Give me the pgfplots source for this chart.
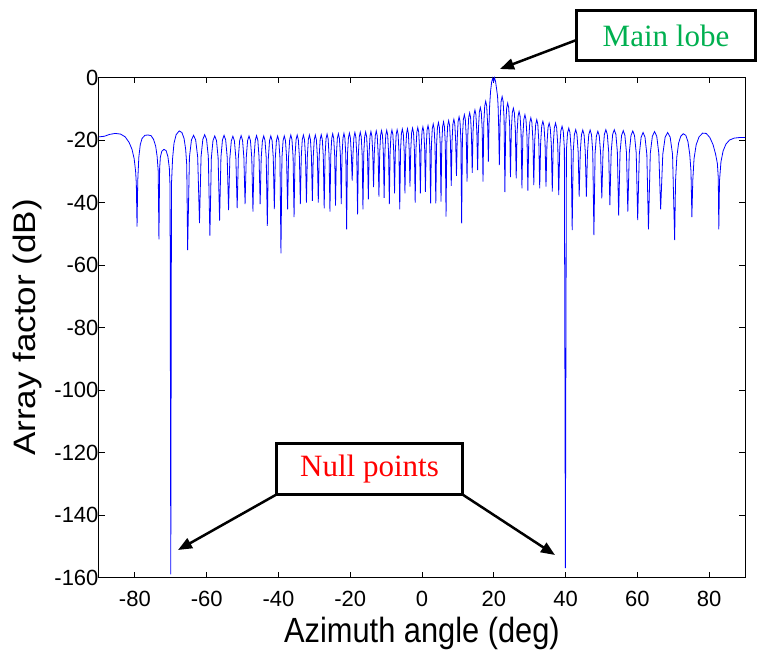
\documentclass[border=0pt]{standalone}
\usepackage{fontspec}
\setmainfont{Liberation Sans}
\newfontfamily\xlabfont[FakeStretch=0.88]{Liberation Sans}
\newfontfamily\ylabfont[FakeStretch=1.13]{Liberation Sans}
\newfontfamily\timesfont{Liberation Serif}
\usepackage{pgfplots}
\pgfplotsset{compat=1.18}
\usetikzlibrary{arrows.meta}
\definecolor{mgreen}{RGB}{0,176,80}
\begin{document}
\begin{tikzpicture}
\path[use as bounding box] (-99pt,-73.5pt) rectangle (659pt,577.5pt);
\begin{axis}[
  at={(0pt,0pt)}, anchor=south west,
  scale only axis, width=646pt, height=500pt,
  xmin=-90, xmax=90, ymin=-160, ymax=0,
  xtick={-80,-60,...,80}, ytick={-160,-140,...,0},
  tick align=inside, major tick length=6pt,
  axis line style={line width=1pt},
  every tick/.style={black, line width=0.8pt},
  /pgf/number format/assume math mode=true,
  tick label style={font=\fontsize{22}{24}\selectfont},
  xticklabel style={yshift=-10pt},
  yticklabel style={xshift=3pt},
  xlabel={\xlabfont\fontsize{35}{40}\selectfont Azimuth angle (deg)},
  ylabel={\ylabfont\fontsize{31}{36}\selectfont Array factor (dB)},
  xlabel style={at={(axis description cs:0.5,0)}, anchor=center, yshift=-56pt},
  ylabel style={at={(axis description cs:-0.11,0.5)}, anchor=center},
  clip=false,
]
\addplot[blue, line width=0.8pt] coordinates {
(-90,-19) (-88.5,-18.8) (-87,-18.2) (-85.5,-17.9) (-84,-18.1) (-82.7,-19) (-81.6,-20.8) (-80.8,-23) (-80.2,-26) (-79.8,-30) (-79.6,-34) (-79.4,-47.7)
(-79.2,-33) (-78.9,-25.5) (-78.5,-21.5) (-78.0,-19.5) (-77.2,-18.5) (-76.35,-18.4) (-75.5,-18.6) (-74.8,-19.8) (-74.2,-22) (-73.8,-25.3) (-73.5,-30) (-73.3,-51.8)
(-73.1,-29) (-72.9,-25.5) (-72.5,-23.6) (-71.9,-23) (-71.3,-23.4) (-70.8,-25.3) (-70.4,-29) (-70.2,-35) (-70.0,-159)
(-69.8,-34) (-69.5,-26) (-69.1,-21) (-68.5,-18.3) (-67.65,-17.1) (-66.9,-17.6) (-66.3,-19.5) (-65.85,-23) (-65.55,-28) (-65.3,-55.2)
(-64.8,-25.5) (-64.24,-20) (-63.65,-18.5) (-63.06,-20) (-62.5,-25.5) (-62.0,-46.6)
(-61.56,-25.3) (-61.07,-19.8) (-60.55,-18.3) (-60.03,-19.8) (-59.54,-25.3) (-59.1,-50.6)
(-58.69,-25.7) (-58.24,-20.2) (-57.75,-18.7) (-57.26,-20.2) (-56.81,-25.7) (-56.4,-45.8)
(-56.02,-25.5) (-55.6,-20) (-55.15,-18.5) (-54.7,-20) (-54.28,-25.5) (-53.9,-42.4)
(-53.54,-25.8) (-53.13,-20.3) (-52.7,-18.8) (-52.27,-20.3) (-51.86,-25.8) (-51.5,-41.8)
(-51.17,-25.6) (-50.8,-20.1) (-50.4,-18.6) (-50.0,-20.1) (-49.63,-25.6) (-49.3,-40.5)
(-48.97,-25.7) (-48.6,-20.2) (-48.2,-18.7) (-47.8,-20.2) (-47.43,-25.7) (-47.1,-42.9)
(-46.8,-25.6) (-46.46,-20.1) (-46.1,-18.6) (-45.74,-20.1) (-45.4,-25.6) (-45.1,-40.5)
(-44.8,-25.7) (-44.46,-20.2) (-44.1,-18.7) (-43.74,-20.2) (-43.4,-25.7) (-43.1,-47.5)
(-42.81,-25.7) (-42.48,-20.2) (-42.13,-18.7) (-41.77,-20.2) (-41.44,-25.7) (-41.15,-42.1)
(-40.87,-25.7) (-40.56,-20.2) (-40.23,-18.7) (-39.89,-20.2) (-39.58,-25.7) (-39.3,-56.3)
(-39.02,-25.7) (-38.71,-20.2) (-38.38,-18.7) (-38.04,-20.2) (-37.73,-25.7) (-37.45,-42.2)
(-37.18,-25.4) (-36.87,-19.9) (-36.55,-18.4) (-36.23,-19.9) (-35.92,-25.4) (-35.65,-44.7)
(-35.39,-25.4) (-35.09,-19.9) (-34.78,-18.4) (-34.46,-19.9) (-34.16,-25.4) (-33.9,-40.5)
(-33.64,-25.4) (-33.36,-19.9) (-33.05,-18.4) (-32.74,-19.9) (-32.46,-25.4) (-32.2,-40)
(-31.95,-25.4) (-31.67,-19.9) (-31.38,-18.4) (-31.08,-19.9) (-30.8,-25.4) (-30.55,-39.5)
(-30.3,-25.4) (-30.02,-19.9) (-29.73,-18.4) (-29.43,-19.9) (-29.15,-25.4) (-28.9,-40)
(-28.65,-25.3) (-28.37,-19.8) (-28.08,-18.3) (-27.78,-19.8) (-27.5,-25.3) (-27.25,-41.9)
(-27.01,-25.1) (-26.74,-19.6) (-26.45,-18.1) (-26.16,-19.6) (-25.89,-25.1) (-25.65,-42.9)
(-25.42,-25) (-25.15,-19.5) (-24.88,-18) (-24.6,-19.5) (-24.33,-25) (-24.1,-41)
(-23.86,-25) (-23.59,-19.5) (-23.3,-18) (-23.01,-19.5) (-22.74,-25) (-22.5,-40.5)
(-22.28,-24.9) (-22.02,-19.4) (-21.75,-17.9) (-21.48,-19.4) (-21.23,-24.9) (-21.0,-48.6)
(-20.77,-24.8) (-20.5,-19.3) (-20.23,-17.8) (-19.95,-19.3) (-19.68,-24.8) (-19.45,-33)
(-19.23,-24.6) (-18.97,-19.1) (-18.7,-17.6) (-18.43,-19.1) (-18.18,-24.6) (-17.95,-43.8)
(-17.73,-24.5) (-17.47,-19) (-17.2,-17.5) (-16.93,-19) (-16.68,-24.5) (-16.45,-42.2)
(-16.23,-24.4) (-15.97,-18.9) (-15.7,-17.4) (-15.43,-18.9) (-15.18,-24.4) (-14.95,-39)
(-14.73,-24.3) (-14.49,-18.8) (-14.23,-17.3) (-13.96,-18.8) (-13.72,-24.3) (-13.5,-35.1)
(-13.28,-24.1) (-13.02,-18.6) (-12.75,-17.1) (-12.48,-18.6) (-12.23,-24.1) (-12.0,-38.1)
(-11.78,-24) (-11.54,-18.5) (-11.28,-17) (-11.01,-18.5) (-10.77,-24) (-10.55,-38.5)
(-10.33,-23.9) (-10.09,-18.4) (-9.83,-16.9) (-9.56,-18.4) (-9.32,-23.9) (-9.1,-40.5)
(-8.88,-23.8) (-8.64,-18.3) (-8.38,-16.8) (-8.11,-18.3) (-7.87,-23.8) (-7.65,-37.1)
(-7.43,-23.7) (-7.19,-18.2) (-6.93,-16.7) (-6.66,-18.2) (-6.42,-23.7) (-6.2,-42.2)
(-5.98,-23.5) (-5.74,-18) (-5.48,-16.5) (-5.21,-18) (-4.97,-23.5) (-4.75,-37.1)
(-4.54,-23.4) (-4.3,-17.9) (-4.05,-16.4) (-3.8,-17.9) (-3.56,-23.4) (-3.35,-34.9)
(-3.13,-23.2) (-2.89,-17.7) (-2.63,-16.2) (-2.36,-17.7) (-2.12,-23.2) (-1.9,-40)
(-1.68,-23) (-1.44,-17.5) (-1.18,-16) (-0.91,-17.5) (-0.67,-23) (-0.45,-37.1)
(-0.24,-22.8) (0.0,-17.3) (0.25,-15.8) (0.5,-17.3) (0.74,-22.8) (0.95,-36.6)
(1.17,-22.4) (1.41,-16.9) (1.68,-15.4) (1.94,-16.9) (2.18,-22.4) (2.4,-40.3)
(2.62,-21.9) (2.86,-16.4) (3.13,-14.9) (3.39,-16.4) (3.63,-21.9) (3.85,-40.3)
(4.07,-21.4) (4.31,-15.9) (4.58,-14.4) (4.84,-15.9) (5.08,-21.4) (5.3,-39.7)
(5.51,-21.2) (5.75,-15.7) (6.0,-14.2) (6.25,-15.7) (6.49,-21.2) (6.7,-44.5)
(6.92,-20.8) (7.16,-15.3) (7.43,-13.8) (7.69,-15.3) (7.93,-20.8) (8.15,-34.7)
(8.37,-20.4) (8.61,-14.9) (8.88,-13.4) (9.14,-14.9) (9.38,-20.4) (9.6,-31.5)
(9.82,-19.6) (10.06,-14.1) (10.33,-12.6) (10.59,-14.1) (10.83,-19.6) (11.05,-46.7)
(11.27,-18.9) (11.53,-13.4) (11.8,-11.9) (12.07,-13.4) (12.33,-18.9) (12.55,-33.3)
(12.77,-18.3) (13.01,-12.8) (13.28,-11.3) (13.54,-12.8) (13.78,-18.3) (14.0,-30.5)
(14.22,-17.4) (14.48,-11.9) (14.75,-10.4) (15.02,-11.9) (15.28,-17.4) (15.5,-29.6)
(15.72,-16.6) (15.98,-11.1) (16.25,-9.6) (16.52,-11.1) (16.78,-16.6) (17.0,-33.3)
(17.22,-14.6) (17.48,-9.1) (17.75,-7.6) (18.02,-9.1) (18.28,-14.6) (18.5,-26.9)
(18.65,-16) (18.85,-9) (19.1,-4.5) (19.4,-1.5) (19.7,-0.2) (19.95,-1.3) (20.2,-0.1) (20.5,-1.3) (20.8,-3.8) (21.05,-6) (21.2,-9) (21.35,-15) (21.55,-28)
(21.78,-13.1) (22.05,-7.6) (22.33,-6.1) (22.6,-7.6) (22.87,-13.1) (23.1,-36.7)
(23.33,-15.2) (23.6,-9.7) (23.88,-8.2) (24.15,-9.7) (24.42,-15.2) (24.65,-31.9)
(24.89,-16.8) (25.16,-11.3) (25.45,-9.8) (25.74,-11.3) (26.01,-16.8) (26.25,-32.3)
(26.49,-17.9) (26.76,-12.4) (27.05,-10.9) (27.34,-12.4) (27.61,-17.9) (27.85,-35.5)
(28.1,-18.9) (28.38,-13.4) (28.68,-11.9) (28.97,-13.4) (29.25,-18.9) (29.5,-36.2)
(29.75,-19.9) (30.03,-14.4) (30.33,-12.9) (30.62,-14.4) (30.9,-19.9) (31.15,-34.4)
(31.4,-20.5) (31.68,-15) (31.98,-13.5) (32.27,-15) (32.55,-20.5) (32.8,-35.5)
(33.06,-21) (33.36,-15.5) (33.68,-14) (33.99,-15.5) (34.29,-21) (34.55,-34.9)
(34.81,-21.6) (35.11,-16.1) (35.43,-14.6) (35.74,-16.1) (36.04,-21.6) (36.3,-36.5)
(36.57,-21.6) (36.88,-16.1) (37.2,-14.6) (37.52,-16.1) (37.83,-21.6) (38.1,-37.6)
(38.38,-22.6) (38.69,-17.1) (39.03,-15.6) (39.36,-17.1) (39.67,-22.6) (39.95,-157)
(40.24,-23.2) (40.56,-17.7) (40.9,-16.2) (41.24,-17.7) (41.56,-23.2) (41.85,-48.8)
(42.14,-23.7) (42.47,-18.2) (42.83,-16.7) (43.18,-18.2) (43.51,-23.7) (43.8,-38.1)
(44.1,-23.8) (44.44,-18.3) (44.8,-16.8) (45.16,-18.3) (45.5,-23.8) (45.8,-38.1)
(46.12,-23.8) (46.47,-18.3) (46.85,-16.8) (47.23,-18.3) (47.58,-23.8) (47.9,-50.4)
(48.23,-24.2) (48.6,-18.7) (49.0,-17.2) (49.4,-18.7) (49.77,-24.2) (50.1,-38.7)
(50.44,-23.7) (50.82,-18.2) (51.23,-16.7) (51.63,-18.2) (52.01,-23.7) (52.35,-40.8)
(52.72,-23.7) (53.13,-18.2) (53.58,-16.7) (54.02,-18.2) (54.43,-23.7) (54.8,-44.2)
(55.18,-24) (55.62,-18.5) (56.08,-17) (56.53,-18.5) (56.97,-24) (57.35,-42.9)
(57.76,-24.1) (58.23,-18.6) (58.73,-17.1) (59.22,-18.6) (59.69,-24.1) (60.1,-45.6)
(60.55,-24.6) (61.06,-19.1) (61.6,-17.6) (62.14,-19.1) (62.65,-24.6) (63.1,-48.6)
(63.61,-24.3) (64.19,-18.8) (64.8,-17.3) (65.41,-18.8) (65.99,-24.3) (66.5,-42.2)
(67.09,-24.6) (67.75,-19.1) (68.45,-17.6) (69.15,-19.1) (69.81,-24.6) (70.4,-52)
(70.65,-33) (71.0,-25.5) (71.5,-21) (72.1,-18.8) (72.8,-18) (73.5,-18.5) (74.1,-20.5) (74.6,-24.5) (74.95,-30) (75.2,-44.7)
(75.45,-33) (75.8,-26) (76.4,-21.5) (77.2,-19) (78.2,-17.8) (79.2,-17.9) (80.2,-19.2) (81.1,-21.5) (81.8,-24.5) (82.3,-27.5) (82.55,-32) (82.7,-48.6)
(82.9,-33) (83.3,-27) (83.9,-23.5) (84.7,-21.3) (85.7,-20) (87,-19.4) (88.5,-19.2) (90,-19.2)
};
\end{axis}
% annotations
\node[draw, line width=3pt, minimum width=179pt, minimum height=50pt, inner sep=0pt, fill=white,
      font=\timesfont\fontsize{31}{36}\selectfont, text=mgreen] at (567pt,542pt) {Main lobe};
\draw[line width=2.5pt, -{Triangle[length=14pt,width=11pt]}] (477.5pt,537.5pt) -- (401pt,508.5pt);
\node[draw, line width=3pt, minimum width=186pt, minimum height=51pt, inner sep=0pt, fill=white,
      font=\timesfont\fontsize{31}{36}\selectfont, text=red] at (270.5pt,108.5pt) {Null points};
\draw[line width=2.5pt, -{Triangle[length=14pt,width=11pt]}] (177.5pt,83pt) -- (79pt,27.5pt);
\draw[line width=2.5pt, -{Triangle[length=14pt,width=11pt]}] (363.5pt,83pt) -- (456pt,22.5pt);
\end{tikzpicture}
\end{document}
